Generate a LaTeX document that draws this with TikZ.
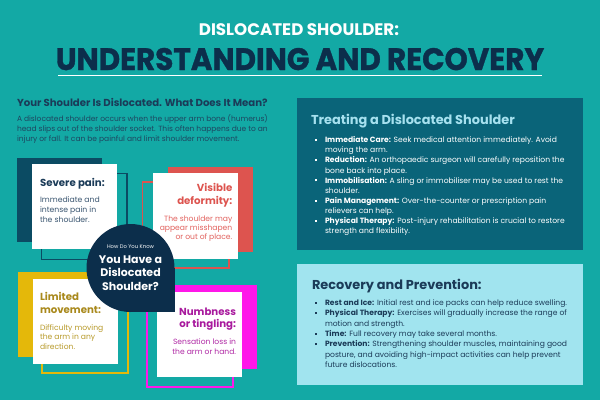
\documentclass[tikz,border=0pt]{standalone}
\usepackage{fontspec}
\setmainfont{Poppins}
\newfontfamily\heavyfont{Poppins}[FakeBold=1.2]
\definecolor{bg}{HTML}{13A9A5}
\definecolor{navy}{HTML}{0C2E4B}
\definecolor{deepteal}{HTML}{0B4B63}
\definecolor{boxone}{HTML}{0A6479}
\definecolor{lightblue}{HTML}{A6E1EF}
\definecolor{boxtwo}{HTML}{A1E4EF}
\definecolor{textnavy}{HTML}{1B3B58}
\definecolor{paranavy}{HTML}{1E4660}
\definecolor{severebody}{HTML}{3A5570}
\definecolor{cardred}{HTML}{DD544F}
\definecolor{redbody}{HTML}{E2625E}
\definecolor{cardyellow}{HTML}{E4B80A}
\definecolor{gold}{HTML}{A9891C}
\definecolor{goldbody}{HTML}{B89A2A}
\definecolor{magfill}{HTML}{FF17E9}
\definecolor{magtext}{HTML}{A8199D}
\definecolor{magbody}{HTML}{B02AA5}
\newcommand\bul{\makebox[10pt][l]{\rule[1.7pt]{2pt}{2pt}}}
\newcommand\ind{\hspace*{10pt}}
\begin{document}
\begin{tikzpicture}[x=1pt,y=-1pt,
  every node/.style={inner sep=0pt,outer sep=0pt},
  outl/.style={line width=1.7pt}]
\fill[bg] (0,0) rectangle (600,400);
\useasboundingbox (0,0) rectangle (600,400);
% title
\node[anchor=base,text=white,font=\fontsize{16.7}{18}\selectfont\bfseries] (t1) at (299,35.7) {DISLOCATED SHOULDER:};
\node[anchor=base,text=navy,font=\fontsize{31}{36}\selectfont\heavyfont\bfseries] (t2) at (300,70) {\scalebox{0.95}[1]{UNDERSTANDING AND RECOVERY}};
\coordinate (ul1) at (58,75.5);
\coordinate (ul2) at (542,75.5);
\draw[white,line width=1pt] (ul1) -- (ul2);
% left intro
\node[anchor=base west,text=textnavy,font=\fontsize{10.15}{11}\selectfont\bfseries] (lh) at (17,106.7) {Your Shoulder Is Dislocated. What Does It Mean?};
\node[anchor=base west,text=paranavy,font=\fontsize{7.5}{10}\selectfont,align=left] (lp) at (17,141.5) {A dislocated shoulder occurs when the upper arm bone (humerus)\\head slips out of the shoulder socket. This often happens due to an\\injury or fall. It can be painful and limit shoulder movement.};
% severe pain card
\fill[deepteal] (17,158) rectangle (102,242);
\draw[deepteal,outl] (41.5,173.5) rectangle (127,259.5);
\fill[white] (32,164) rectangle (117,249);
\node[anchor=base west,text=textnavy,font=\fontsize{10.2}{12}\selectfont\bfseries] (sp) at (40,186.7) {Severe pain:};
\node[anchor=base west,align=left,text=severebody,font=\fontsize{7.7}{9.8}\selectfont] (spb) at (40,222.4) {Immediate and\\intense pain in\\the shoulder.};
% visible deformity card
\fill[cardred] (167.5,166.5) rectangle (252.5,251.5);
\draw[cardred,outl] (142.5,182) rectangle (229,268);
\fill[white] (152.5,173) rectangle (238,259);
\node[anchor=base east,align=right,text=cardred,font=\fontsize{10.2}{12.5}\selectfont\bfseries] (vd) at (232.3,204.2) {Visible\\deformity:};
\node[anchor=base east,align=right,text=redbody,font=\fontsize{7.6}{9.3}\selectfont] (vdb) at (232.3,239.6) {The shoulder may\\appear misshapen\\or out of place.};
% limited movement card
\fill[cardyellow] (18,272) rectangle (103,357);
\draw[cardyellow,outl] (42,288) rectangle (128,373);
\fill[white] (33,279) rectangle (118,364);
\node[anchor=base west,align=left,text=gold,font=\fontsize{10.2}{13.3}\selectfont\bfseries] (lm) at (40,313.3) {Limited\\movement:};
\node[anchor=base west,align=left,text=goldbody,font=\fontsize{7.6}{9.7}\selectfont] (lmb) at (40,349.4) {Difficulty moving\\the arm in any\\direction.};
% numbness card
\fill[magfill] (172,285) rectangle (257,369);
\draw[magfill,outl] (147,302) rectangle (233,387);
\fill[white] (157,292) rectangle (242,377);
\node[anchor=base east,align=right,text=magtext,font=\fontsize{10.2}{12.7}\selectfont\bfseries] (nt) at (236,327.7) {Numbness\\or tingling:};
\node[anchor=base east,align=right,text=magbody,font=\fontsize{7.6}{10}\selectfont] (ntb) at (236,354) {Sensation loss in\\the arm or hand.};
% central badge
\fill[navy] (130.5,268) circle[radius=44pt];
\fill[navy] (130.5,268) rectangle (174.5,312);
\node[anchor=base,text=white,font=\fontsize{5.3}{6}\selectfont] (hk) at (130.5,248.5) {How Do You Know};
\node[anchor=base,align=center,text=white,font=\fontsize{11}{13.3}\selectfont\bfseries] (yh) at (130.5,290) {You Have a\\Dislocated\\Shoulder?};
% right box 1
\fill[boxone] (297,98) rectangle (583,250);
\node[anchor=base west,text=lightblue,font=\fontsize{12.9}{15}\selectfont\bfseries] (th) at (311,124.3) {Treating a Dislocated Shoulder};
\node[anchor=base west,align=left,text=white,font=\fontsize{7.6}{10.1}\selectfont] (tl) at (315,233.6) {\bul\textbf{Immediate Care:} Seek medical attention immediately. Avoid\\
\ind moving the arm.\\
\bul\textbf{Reduction:} An orthopaedic surgeon will carefully reposition the\\
\ind bone back into place.\\
\bul\textbf{Immobilisation:} A sling or immobiliser may be used to rest the\\
\ind shoulder.\\
\bul\textbf{Pain Management:} Over-the-counter or prescription pain\\
\ind relievers can help.\\
\bul\textbf{Physical Therapy:} Post-injury rehabilitation is crucial to restore\\
\ind strength and flexibility.};
% right box 2
\fill[boxtwo] (297,264) rectangle (583,385);
\node[anchor=base west,text=textnavy,font=\fontsize{12.9}{15}\selectfont\bfseries] (rh) at (312,289.3) {Recovery and Prevention:};
\node[anchor=base west,align=left,text=textnavy,font=\fontsize{7.6}{10.3}\selectfont] (rl) at (315,367.3) {\bul\textbf{Rest and Ice:} Initial rest and ice packs can help reduce swelling.\\
\bul\textbf{Physical Therapy:} Exercises will gradually increase the range of\\
\ind motion and strength.\\
\bul\textbf{Time:} Full recovery may take several months.\\
\bul\textbf{Prevention:} Strengthening shoulder muscles, maintaining good\\
\ind posture, and avoiding high-impact activities can help prevent\\
\ind future dislocations.};
\end{tikzpicture}
\end{document}
